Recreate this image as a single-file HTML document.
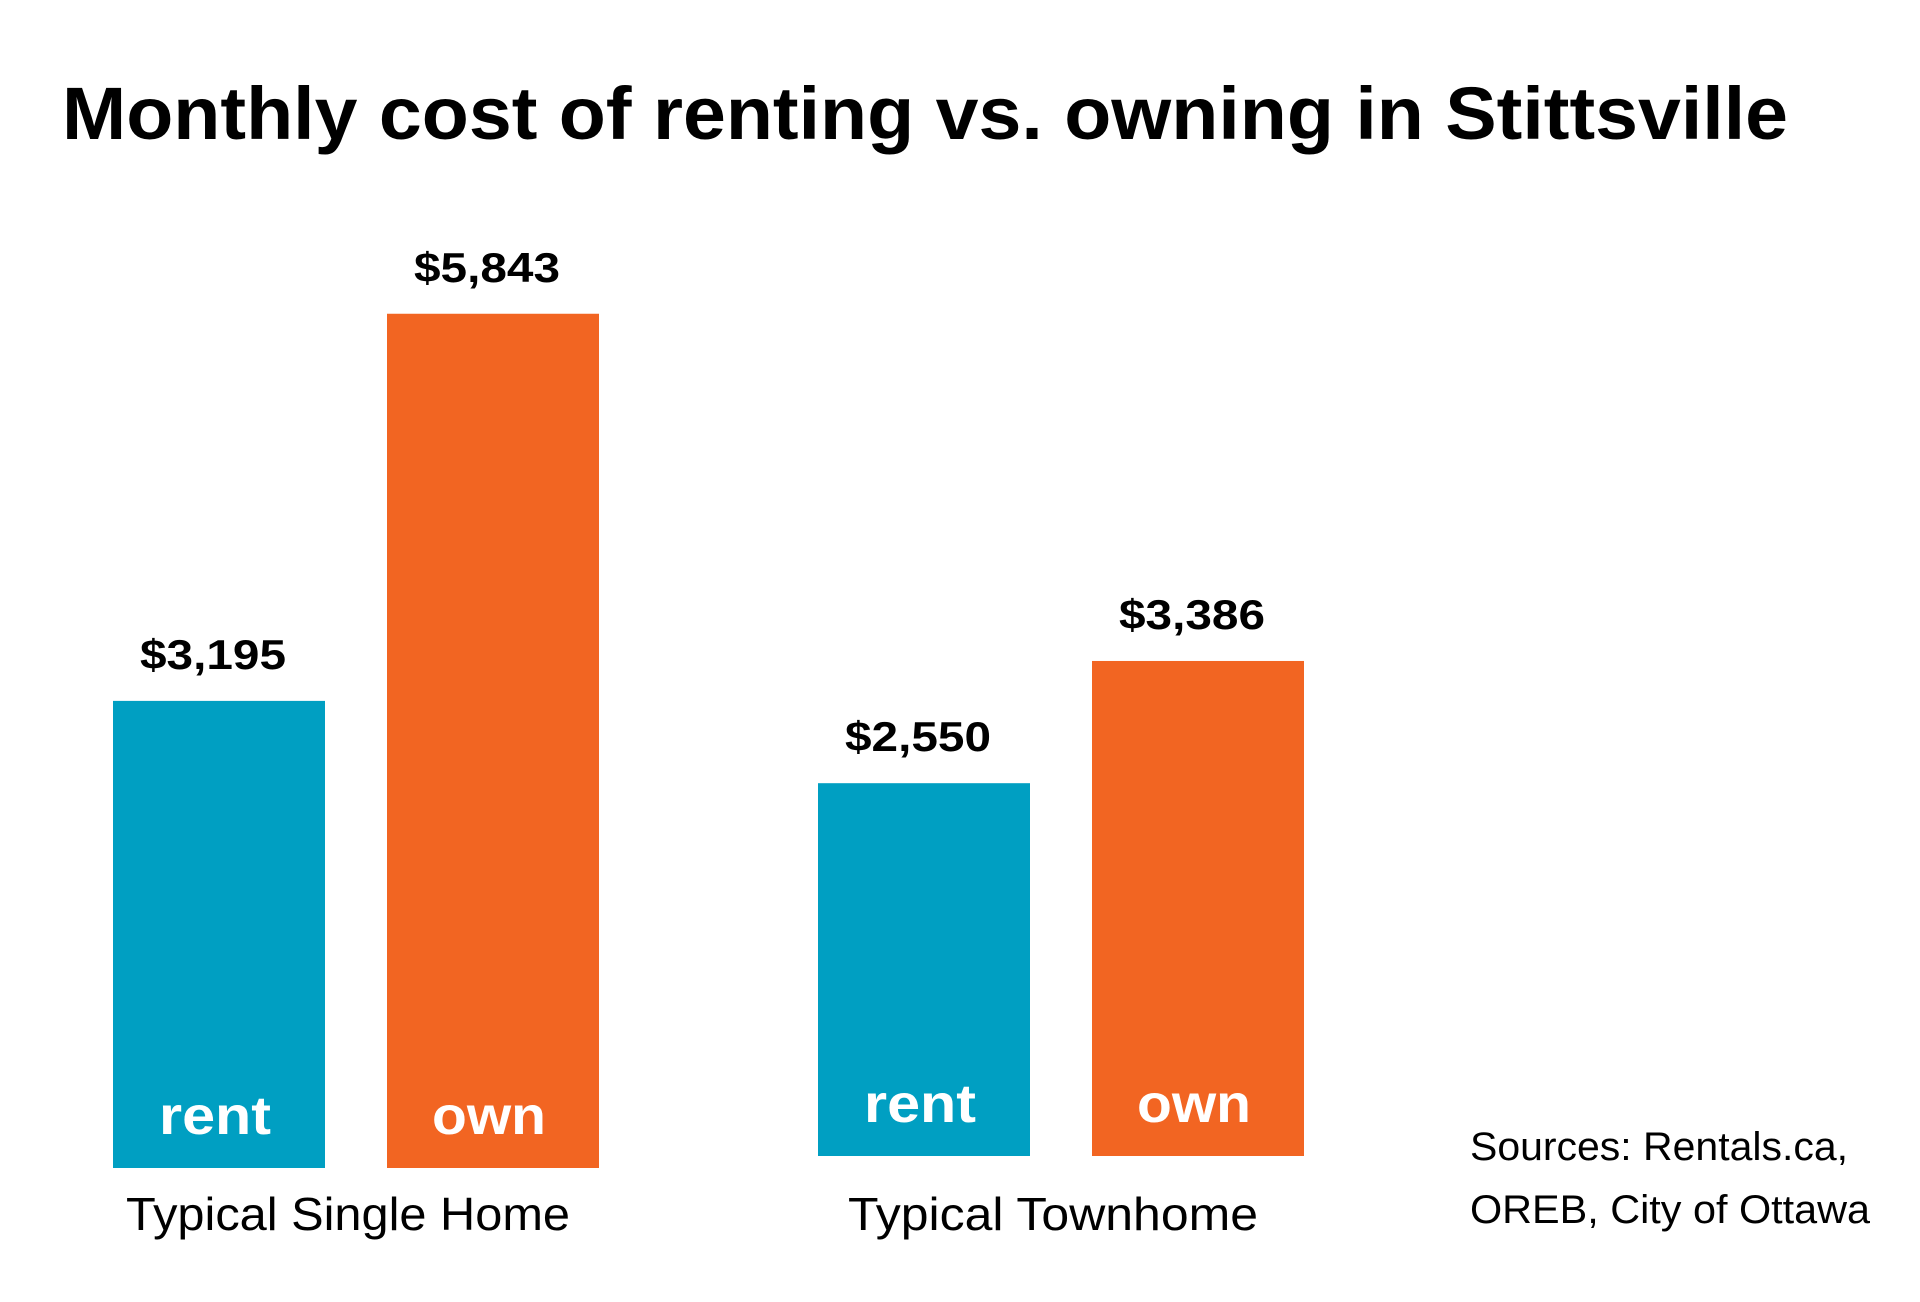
<!DOCTYPE html>
<html><head><meta charset="utf-8"><style>
html,body{margin:0;padding:0;background:#fff;width:1920px;height:1302px;overflow:hidden}
svg{display:block}
</style></head><body>
<svg id="chart" width="1920" height="1302" viewBox="0 0 1920 1302" xmlns="http://www.w3.org/2000/svg" font-family="'Liberation Sans', sans-serif">
<rect width="1920" height="1302" fill="#fff"/>
<text x="62" y="139" font-size="74" font-weight="bold" fill="#000" textLength="1726" lengthAdjust="spacingAndGlyphs">Monthly cost of renting vs. owning in Stittsville</text>
<g id="bars"></g>
<text x="1470" y="1160" font-size="40" fill="#000" textLength="378" lengthAdjust="spacingAndGlyphs">Sources: Rentals.ca,</text>
<text x="1470" y="1223" font-size="40" fill="#000" textLength="400" lengthAdjust="spacingAndGlyphs">OREB, City of Ottawa</text>
</svg>
<script>
const categories = ["Typical Single Home", "Typical Townhome"];
const series = ["rent", "own"];
const rentValues = [3195, 2550];
const ownValues = [5843, 3386];

const NS = "http://www.w3.org/2000/svg";
const g = document.getElementById("bars");
const colors = {rent: "#009fc2", own: "#f26522"};
const groupX = [113, 818];      // left edge of each group
const barW = 212, pairGap = 62;
const baseY = [1168, 1156];
const yScale = v => v * 0.1462;
const catLabelW = [444, 410];

function txt(x, y, s, size, weight, fill, len) {
  const t = document.createElementNS(NS, "text");
  t.setAttribute("x", x); t.setAttribute("y", y);
  t.setAttribute("font-size", size);
  t.setAttribute("font-weight", weight);
  t.setAttribute("fill", fill);
  t.setAttribute("text-anchor", "middle");
  if (len) { t.setAttribute("textLength", len); t.setAttribute("lengthAdjust", "spacingAndGlyphs"); }
  t.textContent = s;
  return t;
}

categories.forEach((cat, ci) => {
  const vals = [rentValues[ci], ownValues[ci]];
  series.forEach((s, si) => {
    const x = groupX[ci] + si * (barW + pairGap);
    const h = yScale(vals[si]);
    const top = baseY[ci] - h;
    const r = document.createElementNS(NS, "rect");
    r.setAttribute("x", x); r.setAttribute("y", top);
    r.setAttribute("width", barW); r.setAttribute("height", h);
    r.setAttribute("fill", colors[s]);
    
    
    g.appendChild(r);
    const cx = x + barW / 2;
    const vl = txt(cx - 6, top - 32, "$" + vals[si].toLocaleString("en-US"), 42, "bold", "#000", 146);
    
    
    g.appendChild(vl);
    const il = txt(cx - 4, baseY[ci] - 34, s, 54, "bold", "#fff", s === "rent" ? 112 : 114);
    
    
    g.appendChild(il);
  });
  const mid = groupX[ci] + (2 * barW + pairGap) / 2;
  const cl = txt(mid - 8, 1230, cat, 46, "normal", "#000", catLabelW[ci]);
  
  
  g.appendChild(cl);
});
</script>
</body></html>
